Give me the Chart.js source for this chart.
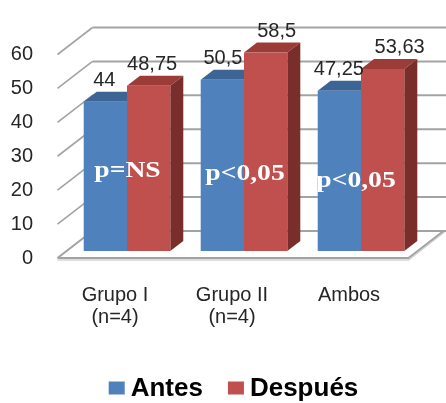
<!DOCTYPE html>
<html>
<head>
<meta charset="utf-8">
<script src="https://cdn.jsdelivr.net/npm/chart.js@4.4.1/dist/chart.umd.min.js"></script>
<style>
  html, body { margin: 0; padding: 0; background: #fff; }
  #chart { display: block; }
</style>
</head>
<body>
<canvas id="chart" width="446" height="403"></canvas>
<script>
// Data
const groups = [['Grupo I', '(n=4)'], ['Grupo II', '(n=4)'], ['Ambos']];
const antes = [44, 50.5, 47.25];
const despues = [48.75, 58.5, 53.63];
const pLabels = ['p=NS', 'p<0,05', 'p<0,05'];
const yMin = 0, yMax = 60, yStep = 10;

const SANS = "'Liberation Sans', Arial, sans-serif";
const SERIF = "'Liberation Serif', 'Times New Roman', serif";

// 3D geometry (pixels)
const barDepth = { x: 13, y: -10 };
const wallFront = { x: -11, y: 7 };
const wallBack = { x: 24, y: -20 };

function poly(ctx, pts) {
    ctx.beginPath();
    ctx.moveTo(pts[0][0], pts[0][1]);
    for (let i = 1; i < pts.length; i++) ctx.lineTo(pts[i][0], pts[i][1]);
    ctx.closePath();
    ctx.fill();
}

function fmt(v) {
    return String(v).replace('.', ',');
}

// walls, floor, bar tops and sides (fronts are drawn by Chart.js)
const box3d = {
    id: 'box3d',
    beforeDatasetsDraw(chart) {
        const { ctx, chartArea: a, scales: { y } } = chart;
        const y0 = y.getPixelForValue(0);
        ctx.save();
        ctx.lineCap = 'butt';

        // back wall grid + left wall diagonals
        y.ticks.forEach(t => {
            if (t.value === 0) return;
            const py = y.getPixelForValue(t.value);
            ctx.strokeStyle = '#a3a3a3';
            ctx.lineWidth = 2;
            ctx.beginPath();
            ctx.moveTo(a.left + wallBack.x, py + wallBack.y);
            ctx.lineTo(a.right + wallBack.x + 3, py + wallBack.y);
            ctx.stroke();
            ctx.lineWidth = 1.6;
            ctx.beginPath();
            ctx.moveTo(a.left + wallFront.x, py + wallFront.y);
            ctx.lineTo(a.left + wallBack.x, py + wallBack.y);
            ctx.stroke();
        });

        // floor
        const fl = [
            [a.left + wallFront.x, y0 + wallFront.y],
            [a.right + wallFront.x, y0 + wallFront.y],
            [a.right + wallBack.x, y0 + wallBack.y],
            [a.left + wallBack.x, y0 + wallBack.y]
        ];
        ctx.fillStyle = '#ffffff';
        poly(ctx, fl);
        ctx.strokeStyle = '#d4d4d4';
        ctx.lineWidth = 1.5;
        ctx.beginPath();
        ctx.moveTo(fl[0][0], fl[0][1] + 2);
        ctx.lineTo(fl[1][0], fl[1][1] + 2);
        ctx.lineTo(fl[2][0] + 1, fl[2][1] + 1);
        ctx.stroke();
        ctx.strokeStyle = '#a3a3a3';
        ctx.lineWidth = 2;
        ctx.beginPath();
        ctx.moveTo(fl[0][0], fl[0][1]);
        ctx.lineTo(fl[1][0], fl[1][1]);
        ctx.lineTo(fl[2][0], fl[2][1]);
        ctx.moveTo(fl[0][0], fl[0][1]);
        ctx.lineTo(fl[3][0], fl[3][1]);
        ctx.lineTo(fl[2][0] + 3, fl[2][1]);
        ctx.stroke();

        // bar tops and right sides
        chart.data.datasets.forEach((ds, i) => {
            chart.getDatasetMeta(i).data.forEach(bar => {
                const { x, y: top, base, width } = bar.getProps(['x', 'y', 'base', 'width'], true);
                const l = x - width / 2, r = x + width / 2;
                const dx = barDepth.x, dy = barDepth.y;
                ctx.fillStyle = ds.topColor;
                poly(ctx, [[l, top], [r, top], [r + dx, top + dy], [l + dx, top + dy]]);
                ctx.fillStyle = ds.sideColor;
                poly(ctx, [[r, top], [r + dx, top + dy], [r + dx, base + dy], [r, base]]);
            });
        });
        ctx.restore();
    }
};

// value labels above the bars and p labels across each group
const annotations = {
    id: 'annotations',
    afterDatasetsDraw(chart, args, opts) {
        const { ctx, scales: { x, y } } = chart;
        ctx.save();
        ctx.font = '20px ' + SANS;
        ctx.fillStyle = '#262626';
        ctx.textAlign = 'center';
        ctx.textBaseline = 'alphabetic';
        chart.data.datasets.forEach((ds, i) => {
            chart.getDatasetMeta(i).data.forEach((bar, j) => {
                const shift = opts.valueShift[i][j];
                ctx.fillText(fmt(ds.data[j]), bar.x + shift, bar.y - 16);
            });
        });

        ctx.font = 'bold 24px ' + SERIF;
        ctx.fillStyle = '#ffffff';
        pLabels.forEach((txt, j) => {
            const px = x.getPixelForValue(j) + opts.pShift[j];
            const py = y.getPixelForValue(opts.pLevel[j]);
            ctx.save();
            ctx.translate(px, py);
            ctx.scale(1.15, 1);
            ctx.fillText(txt, 0, 0);
            ctx.restore();
        });
        ctx.restore();
    }
};

// legend drawn as a single centred row under the axis
const rowLegend = {
    id: 'rowLegend',
    afterDraw(chart, args, opts) {
        const { ctx } = chart;
        ctx.save();
        ctx.font = 'bold 26px ' + SANS;
        const items = chart.data.datasets.map(ds => ({
            label: ds.label,
            color: ds.backgroundColor,
            w: ctx.measureText(ds.label).width
        }));
        const boxW = 16, boxH = 13, gap = 6, spacing = 25;
        const total = items.reduce((s, it) => s + boxW + gap + it.w, 0) + spacing * (items.length - 1);
        let cx = opts.centerX - total / 2;
        items.forEach(it => {
            ctx.fillStyle = it.color;
            ctx.fillRect(cx, opts.baseline - boxH - 1, boxW, boxH);
            cx += boxW + gap;
            ctx.fillStyle = '#000';
            ctx.textAlign = 'left';
            ctx.textBaseline = 'alphabetic';
            ctx.fillText(it.label, cx, opts.baseline);
            cx += it.w + spacing;
        });
        ctx.restore();
    }
};

const ctx = document.getElementById('chart').getContext('2d');
new Chart(ctx, {
    type: 'bar',
    data: {
        labels: groups,
        datasets: [
            {
                label: 'Antes',
                data: antes,
                backgroundColor: '#4f81bd',
                topColor: '#3c6595',
                sideColor: '#375d8a'
            },
            {
                label: 'Después',
                data: despues,
                backgroundColor: '#c0504d',
                topColor: '#9c3c39',
                sideColor: '#7a2e2c'
            }
        ]
    },
    options: {
        responsive: false,
        animation: false,
        layout: { padding: { top: 34.4, right: 26.5, left: 0, bottom: 0 } },
        datasets: {
            bar: { barPercentage: 1, categoryPercentage: 0.74, borderWidth: 0 }
        },
        scales: {
            x: {
                grid: { display: false, drawTicks: false },
                border: { display: false },
                ticks: {
                    padding: 33,
                    labelOffset: -12,
                    maxRotation: 0,
                    color: '#262626',
                    font: { family: SANS, size: 20, lineHeight: 1.1 }
                },
                afterFit(s) { s.height = 152; }
            },
            y: {
                min: yMin,
                max: yMax,
                grid: { display: false, drawTicks: false },
                border: { display: false },
                ticks: {
                    stepSize: yStep,
                    padding: 35.5,
                    labelOffset: 7,
                    color: '#262626',
                    font: { family: SANS, size: 20 }
                },
                afterFit(s) { s.width = 68.5; }
            }
        },
        plugins: {
            legend: { display: false },
            tooltip: { enabled: false },
            annotations: {
                valueShift: [[-1, 0.5, -0.5], [3.5, 11, 17]],
                pShift: [0.5, 1, -5],
                pLevel: [21.9, 21, 18.8]
            },
            rowLegend: { centerX: 233.5, baseline: 395.5 }
        }
    },
    plugins: [box3d, annotations, rowLegend]
});
</script>
</body>
</html>
